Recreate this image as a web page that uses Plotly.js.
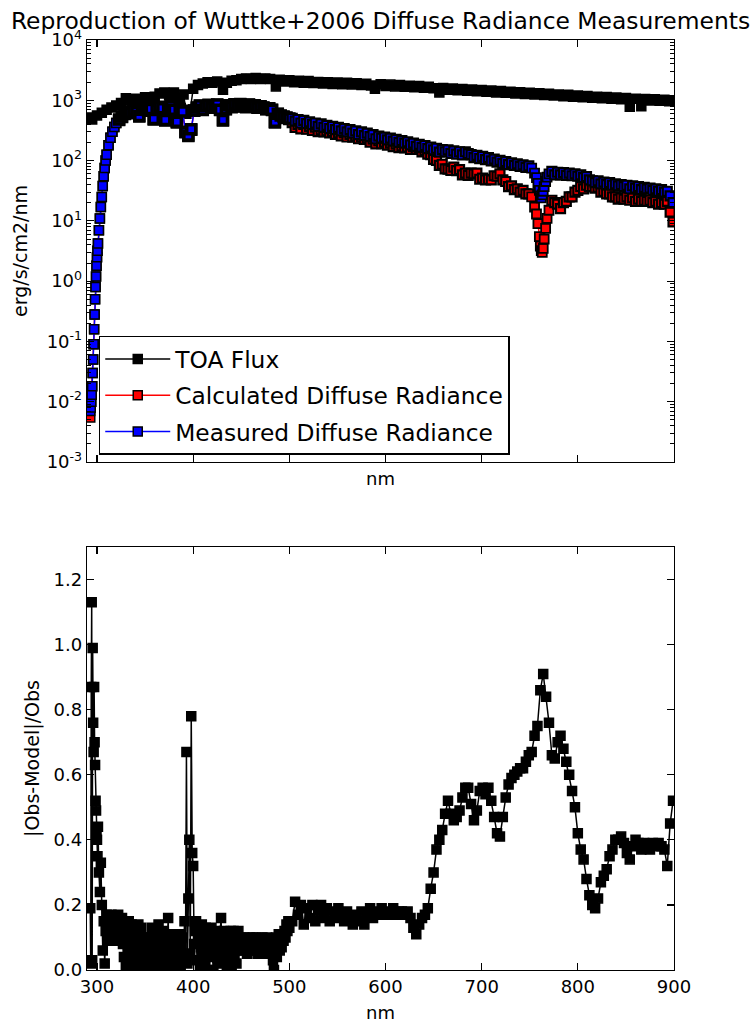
<!DOCTYPE html>
<html><head><meta charset="utf-8">
<script src="https://cdn.plot.ly/plotly-3.0.1.min.js"></script>
<style>html,body{margin:0;padding:0;background:#fff;} #chart{width:753px;height:1023px;}</style>
</head><body><div id="chart"></div>
<script>
// ---------- TOA flux ----------
const xToa = [290,295,300,305,310,315,320,325,330,335,
  340,345,350,355,360,365,370,375,380,385,
  390,393,397,400,405,410,415,420,425,431,
  435,440,445,450,455,460,465,470,475,480,
  486,490,495,500,505,510,515,520,525,530,
  535,540,545,550,555,560,565,570,575,580,
  585,589,595,600,605,610,615,620,625,630,
  635,640,645,650,656,660,665,670,675,680,
  685,690,695,700,705,710,715,720,725,730,
  735,740,745,750,755,760,765,770,775,780,
  785,790,795,800,805,810,815,820,825,830,
  835,840,845,850,854,860,866,870,875,880,
  885,890,895,900];
const toaFlux = [520,480,560,620,700,760,820,900,1080,1000,
  1060,980,1120,1060,1150,1300,1350,1200,1350,1100,
  1250,600,700,1550,1800,1900,2000,1950,2050,1500,
  1950,2100,2150,2250,2300,2250,2350,2250,2300,2250,
  1700,2200,2050,2150,2000,2100,1950,2080,1940,2020,
  1900,2000,1860,1980,1850,1950,1830,1920,1800,1880,
  1760,1550,1840,1730,1820,1700,1790,1670,1750,1640,
  1720,1610,1680,1580,1350,1600,1500,1570,1470,1540,
  1440,1510,1410,1480,1380,1450,1350,1420,1330,1390,
  1300,1360,1270,1340,1250,1310,1220,1280,1200,1250,
  1170,1230,1150,1200,1120,1180,1100,1150,1080,1130,
  1060,1110,1040,1090,780,1060,800,1050,990,1040,
  980,1020,960,1000];

// ---------- Diffuse radiance (calculated / measured) ----------
const xDiffuse = [293,293.5,294,294.5,295,295.5,296,296.5,297,297.5,
  298,298.5,299,299.5,300,300.5,301,302,303,304,
  305,306,307,308,309,310,312,314,316,318,
  320,
  323,326,329,332,335,338,341,344,347,350,
  353,356,359,362,365,368,371,374,377,380,
  383,386,389,392,395,398,401,404,407,410,
  413,416,419,422,425,428,431,434,437,440,
  443,446,449,452,455,458,461,464,467,470,
  473,476,479,482,485,488,491,494,497,500,
  503,506,509,512,515,518,521,524,527,530,
  533,536,539,542,545,548,551,554,557,560,
  563,566,569,572,575,578,581,584,587,590,
  593,596,599,602,605,608,611,614,617,620,
  623,626,629,632,635,638,641,644,647,650,
  653,656,659,662,665,668,671,674,677,680,
  683,686,689,692,695,698,701,704,707,710,
  713,716,719,722,725,728,731,734,737,740,
  743,746,749,
  752,755,757,758.5,760,761,762,763,764,765,766.5,768,770,
  773,776,779,782,785,788,791,794,797,800,
  803,806,809,812,815,818,821,824,827,830,
  833,836,839,842,845,848,851,854,857,860,
  863,866,869,872,875,878,881,884,887,890,
  893,896,899];
const measDiffuse = [0.007,0.008,0.010,0.013,0.018,0.03,0.05,0.09,0.16,0.28,
  0.5,0.8,1.2,1.8,2.5,3.2,4.2,7,11,17,
  25,38,55,75,100,125,180,240,300,360,
  420,
  480,540,600,650,620,690,640,550,700,740,
  680,720,490,700,780,740,470,760,800,700,
  440,720,650,300,260,330,680,760,820,700,
  800,840,760,820,850,700,470,720,830,780,
  860,800,870,820,780,850,790,830,760,800,
  760,720,740,700,440,600,560,540,520,500,
  500,450,480,420,465,410,440,395,420,370,
  405,355,385,340,370,325,355,310,340,300,
  325,285,310,270,300,260,285,250,270,230,
  255,235,245,220,235,210,225,200,215,195,
  205,182,195,172,186,165,178,158,168,150,
  160,138,152,140,150,132,145,128,140,124,
  140,130,126,112,122,108,117,104,112,99,
  106,94,101,90,96,86,92,83,88,80,
  85,77,82,
  75,62,52,42,32,26,24,27,31,37,45,53,60,
  66,58,64,58,63,57,62,56,60,55,
  58,52,54,48,46,43,46,41,44,40,
  43,39,41,38,40,37,39,34,38,35,
  37,33,36,34,35,32,34,31,33,30,
  31,26,20];
const calcDiffuse = [0.0055,0.008,0.010,0.013,0.018,0.03,0.05,0.09,0.16,0.28,
  0.5,0.8,1.2,1.8,2.5,3.2,4.2,7,11,17,
  25,38,55,75,100,125,180,240,300,360,
  420,
  470,530,590,640,610,680,630,540,690,730,
  670,710,480,690,770,730,460,750,790,690,
  430,710,640,295,255,325,670,750,810,690,
  790,830,750,810,840,690,460,710,820,770,
  850,790,860,810,770,840,780,820,750,790,
  750,710,730,690,430,590,550,530,510,490,
  425,356,398,336,400,332,370,316,357,303,
  324,298,312,289,303,273,288,257,289,246,
  273,245,257,230,246,224,237,203,227,189,
  212,190,203,180,195,170,187,164,176,162,
  168,153,170,153,160,139,148,128,126,105,
  101,83,87,73,72,69,78,68,71,58,
  62,57,62,60,62,49,51,48,49,48,
  56,55,60,48,45,37,38,33,34,30,
  32,28,28,
  25,17,13,9,5.5,3.8,3.2,3.0,3.5,5,7.5,11,15,
  22,20,19,16,20,21,25,25,30,32,
  37,34,39,37,37,35,36,30,31,28,
  28,25,25,23,24,23,25,22,24,21,
  23,21,22,21,22,20,21,19,20,19,
  21,14,9.6];

// ---------- |Obs-Model|/Obs ----------
const xRatio = [293,293.5,294,294.5,295,295.5,296,296.5,297,297.5,
  298,298.5,299,299.5,300,300.5,301,302,303,304,
  305,306,307,308,309,310,
  311,312,313,314,315,316,317,318,319,320,
  321,322,323,324,325,326,327,328,329,330,
  331,332,333,334,335,336,337,338,339,340,
  341,342,343,344,345,346,347,348,349,350,
  351,352,353,354,355,356,357,358,359,360,
  361,362,363,364,365,366,367,368,369,370,
  371,372,373,374,375,376,377,378,379,380,
  381,382,383,384,385,386,387,388,389,390,
  391,392,393,394,395,396,397,398,399,400,
  401,402,403,404,405,406,407,408,409,410,
  411,412,413,414,415,416,417,418,419,420,
  421,422,423,424,425,426,427,428,429,430,
  431,432,433,434,435,436,437,438,439,440,
  441,442,443,444,445,446,447,448,449,450,
  451,452,453,454,455,456,457,458,459,460,
  461,462,463,464,465,466,467,468,469,470,
  471,472,473,474,475,476,477,478,479,480,
  481,482,483,484,485,486,487,488,489,490,
  491,492,493,494,495,496,497,498,499,500,
  503,506,509,512,515,518,521,524,527,530,
  533,536,539,542,545,548,551,554,557,560,
  563,566,569,572,575,578,581,584,587,590,
  593,596,599,602,605,608,611,614,617,620,
  623,626,629,632,635,638,641,644,647,650,
  653,656,659,662,665,668,671,674,677,680,
  683,686,689,692,695,698,701,704,707,710,
  713,716,719,722,725,728,731,734,737,740,
  743,746,749,752,755,758,761,764,767,770,
  773,776,779,782,785,788,791,794,797,800,
  803,806,809,812,815,818,821,824,827,830,
  833,836,839,842,845,848,851,854,857,860,
  863,866,869,872,875,878,881,884,887,890,
  893,896,899];
const ratio = [0.19,0.02,0.87,1.13,0.03,0.99,0.76,0.67,0.87,0.70,
  0.63,0.52,0.49,0.43,0.40,0.35,0.44,0.30,0.24,0.33,
  0.20,0.06,0.15,0.02,0.12,0.17,
  0.12,0.16,0.09,0.14,0.17,0.10,0.13,0.16,0.09,0.15,
  0.11,0.17,0.09,0.14,0.10,0.16,0.08,0.04,0.12,0.01,
  0.13,0.05,0.15,0.02,0.10,0.14,0.00,0.08,0.12,0.03,
  0.11,0.06,0.14,0.01,0.09,0.13,0.04,0.00,0.10,0.07,
  0.05,0.09,0.01,0.10,0.03,0.07,0.13,0.02,0.11,0.06,
  0.12,0.00,0.09,0.14,0.04,0.11,0.02,0.08,0.12,0.05,
  0.09,0.01,0.06,0.16,0.03,0.10,0.07,0.00,0.11,0.04,
  0.08,0.11,0.02,0.09,0.05,0.11,0.00,0.07,0.10,0.03,
  0.15,0.05,0.67,0.02,0.22,0.40,0.05,0.78,0.36,0.32,
  0.08,0.12,0.15,0.03,0.10,0.13,0.01,0.07,0.14,0.05,
  0.11,0.02,0.13,0.06,0.09,0.12,0.00,0.10,0.13,0.04,
  0.00,0.08,0.12,0.05,0.10,0.07,0.02,0.11,0.16,0.04,
  0.09,0.12,0.03,0.10,0.00,0.06,0.11,0.04,0.12,0.01,
  0.08,0.12,0.05,0.11,0.02,0.09,0.12,0.07,0.10,0.06,
  0.09,0.06,0.10,0.07,0.08,0.05,0.09,0.06,0.10,0.07,
  0.08,0.10,0.06,0.09,0.07,0.10,0.05,0.08,0.06,0.09,
  0.07,0.10,0.06,0.08,0.09,0.05,0.10,0.07,0.06,0.09,
  0.05,0.08,0.03,0.00,0.06,0.10,0.04,0.09,0.11,0.06,
  0.10,0.07,0.11,0.09,0.12,0.10,0.14,0.12,0.15,0.13,
  0.15,0.21,0.17,0.20,0.14,0.19,0.16,0.20,0.15,0.18,
  0.20,0.16,0.19,0.15,0.18,0.16,0.19,0.17,0.15,0.18,
  0.16,0.14,0.17,0.15,0.18,0.14,0.17,0.19,0.16,0.18,
  0.17,0.19,0.17,0.18,0.17,0.19,0.17,0.18,0.18,0.17,
  0.18,0.16,0.13,0.11,0.14,0.16,0.17,0.19,0.25,0.30,
  0.37,0.40,0.43,0.48,0.52,0.48,0.46,0.47,0.49,0.53,
  0.56,0.56,0.51,0.46,0.49,0.55,0.56,0.54,0.56,0.52,
  0.47,0.42,0.41,0.47,0.53,0.57,0.59,0.60,0.61,0.62,
  0.62,0.64,0.66,0.67,0.72,0.75,0.86,0.91,0.84,0.76,
  0.66,0.65,0.70,0.72,0.68,0.64,0.60,0.55,0.50,0.42,
  0.37,0.34,0.28,0.23,0.20,0.19,0.22,0.27,0.29,0.31,
  0.35,0.37,0.40,0.40,0.41,0.39,0.36,0.34,0.38,0.40,
  0.39,0.37,0.39,0.38,0.37,0.39,0.38,0.39,0.38,0.37,
  0.32,0.45,0.52];

// ---------- tick labels ----------
const logTickVals = [1e-3,1e-2,1e-1,1,10,100,1000,10000];
const logTickText = ['10<sup>-3</sup>','10<sup>-2</sup>','10<sup>-1</sup>','10<sup>0</sup>',
  '10<sup>1</sup>','10<sup>2</sup>','10<sup>3</sup>','10<sup>4</sup>'];

const minorVals = [];
for (let e = -3; e < 4; e++) for (let m = 2; m < 10; m++) minorVals.push(m * Math.pow(10, e));

const FONT = 'DejaVu Sans, Verdana, sans-serif';
const K = '#000000';
const RED = '#ff0000', BLUE = '#0000ff';
// Edge width per point: heavier edges where the original sampling was much denser (band reads dark there)
function edgeWidths(xs){
  return xs.map(v => {
    if (v <= 321) return 1.5;
    if (v < 501) return 3.5;
    if (v > 751 && v < 771) return 1.8;
    return 2.2;
  });
}
function mk(color, w){ return {symbol:'square', size:9, color:color, line:{color:K, width:w}}; }

const traces = [
  {type:'scatter', mode:'lines+markers', name:'TOA Flux', x:xToa, y:toaFlux, showlegend:false,
   line:{color:K, width:1.5}, marker:mk(K, 1.5), xaxis:'x', yaxis:'y', legendgroup:'g1'},
  {type:'scatter', mode:'lines+markers', name:'Calculated Diffuse Radiance', x:xDiffuse, y:calcDiffuse, showlegend:false,
   line:{color:RED, width:1.5}, marker:mk(RED, edgeWidths(xDiffuse)), xaxis:'x', yaxis:'y', legendgroup:'g2'},
  {type:'scatter', mode:'lines+markers', name:'Measured Diffuse Radiance', x:xDiffuse, y:measDiffuse, showlegend:false,
   line:{color:BLUE, width:1.5}, marker:mk(BLUE, edgeWidths(xDiffuse)), xaxis:'x', yaxis:'y', legendgroup:'g3'},
  {type:'scatter', mode:'lines+markers', name:'ratio', x:xRatio, y:ratio, showlegend:false,
   line:{color:K, width:1.5}, marker:mk(K, 1.5), xaxis:'x2', yaxis:'y2'},
  // legend keys (no data points)
  {type:'scatter', mode:'lines+markers', name:'TOA Flux', x:[null], y:[null],
   line:{color:K, width:1.5}, marker:mk(K, 1.5), xaxis:'x', yaxis:'y', legendgroup:'g1'},
  {type:'scatter', mode:'lines+markers', name:'Calculated Diffuse Radiance', x:[null], y:[null],
   line:{color:RED, width:1.5}, marker:mk(RED, 1.5), xaxis:'x', yaxis:'y', legendgroup:'g2'},
  {type:'scatter', mode:'lines+markers', name:'Measured Diffuse Radiance', x:[null], y:[null],
   line:{color:BLUE, width:1.5}, marker:mk(BLUE, 1.5), xaxis:'x', yaxis:'y', legendgroup:'g3'}
];

const axBase = {showline:true, linecolor:K, linewidth:1.3, mirror:'ticks', ticks:'inside',
  ticklen:7, tickwidth:1.2, tickcolor:K, showgrid:false, zeroline:false,
  tickfont:{family:FONT, size:18, color:K}};

const layout = {
  width:753, height:1023,
  margin:{l:87, r:79, t:40, b:53},
  paper_bgcolor:'#ffffff', plot_bgcolor:'#ffffff',
  font:{family:FONT, color:K, size:18},
  title:{text:'Reproduction of Wuttke+2006 Diffuse Radiance Measurements',
    font:{family:FONT, size:23.4, color:K}, x:0.5, xref:'paper', xanchor:'center',
    y:1 - 21/1023, yref:'container', yanchor:'middle'},
  showlegend:true,
  legend:{x:0.02, y:0.682, xanchor:'left', yanchor:'top', bordercolor:K, borderwidth:1.5,
    bgcolor:'#ffffff', font:{family:FONT, size:23.3, color:K}, traceorder:'grouped',
    tracegroupgap:3, itemwidth:65},
  xaxis:Object.assign({}, axBase, {domain:[0,1], range:[289.6,900], anchor:'y',
    tick0:300, dtick:100, showticklabels:false,
    title:{text:'nm', font:{family:FONT, size:18, color:K}, standoff:10}}),
  yaxis:Object.assign({}, axBase, {type:'log', domain:[0.5462,1], range:[-3,4], anchor:'x',
    tickmode:'array', tickvals:logTickVals, ticktext:logTickText,
    minor:{ticks:'inside', ticklen:4, tickcolor:K, tickwidth:1, tickmode:'array', tickvals:minorVals, showgrid:false},
    title:{text:'erg/s/cm2/nm', font:{family:FONT, size:19, color:K}, standoff:14}}),
  xaxis2:Object.assign({}, axBase, {domain:[0,1], range:[289.6,900], anchor:'y2',
    tick0:300, dtick:100,
    title:{text:'nm', font:{family:FONT, size:18, color:K}}}),
  yaxis2:Object.assign({}, axBase, {domain:[0,0.4548], range:[0,1.3], anchor:'x2',
    tick0:0, dtick:0.2, tickformat:'.1f',
    title:{text:'|Obs-Model|/Obs', font:{family:FONT, size:19, color:K}}})
};

Plotly.newPlot('chart', traces, layout, {displayModeBar:false, staticPlot:true});
</script>
</body></html>
